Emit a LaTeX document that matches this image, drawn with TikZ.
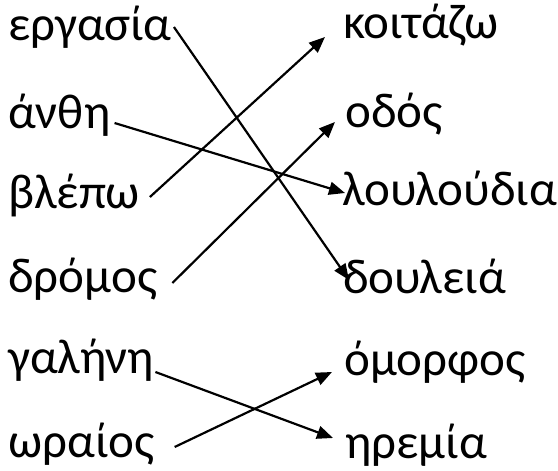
\documentclass[tikz,border=0pt]{standalone}
\usepackage{fontspec}
\setmainfont{Carlito}
\usetikzlibrary{arrows.meta}
\tikzset{
  word/.style={inner sep=0pt,font=\fontsize{49}{59}\selectfont},
  lw/.style={word,anchor=base west},
  ar/.style={-{Triangle[length=16pt,width=13pt]},line width=2.2pt,black},
}
\begin{document}
\begin{tikzpicture}[x=1pt,y=-1pt]
\useasboundingbox (0,0) rectangle (558,471);
% left column
\node[lw] (ergasia) at (8,40)  {εργασία};
\node[lw] (anthi)   at (8,128) {άνθη};
\node[lw] (blepo)   at (8,208) {βλέπω};
\node[lw] (dromos)  at (8,292) {δρόμος};
\node[lw] (galini)  at (8,373) {γαλήνη};
\node[lw] (oraios)  at (8,457) {ωραίος};
% right column
\node[lw] (koitazo)   at (343,38)  {κοιτάζω};
\node[lw] (odos)      at (345,127) {οδός};
\node[lw] (louloudia) at (342,205) {λουλούδια};
\node[lw] (douleia)   at (343,293) {δουλειά};
\node[lw] (omorfos)   at (344,375) {όμορφος};
\node[lw] (iremia)    at (345,458) {ηρεμία};
% matches
\draw[ar] ([xshift=2pt,yshift=13pt]ergasia.base east) -- ([xshift=6pt,yshift=13pt]douleia.base west);
\draw[ar] ([xshift=4pt,yshift=5pt]anthi.base east) -- ([xshift=3pt,yshift=12pt]louloudia.base west);
\draw[ar] ([xshift=10pt,yshift=11pt]blepo.base east) -- ([xshift=-18pt,yshift=1pt]koitazo.base west);
\draw[ar] ([xshift=15pt,yshift=9pt]dromos.base east) -- ([xshift=-10pt,yshift=5pt]odos.base west);
\draw[ar] ([xshift=1pt,yshift=1pt]galini.base east) -- ([xshift=-12pt,yshift=20pt]iremia.base west);
\draw[ar] ([xshift=20pt,yshift=10pt]oraios.base east) -- ([xshift=-12pt,yshift=3pt]omorfos.base west);
\end{tikzpicture}
\end{document}
